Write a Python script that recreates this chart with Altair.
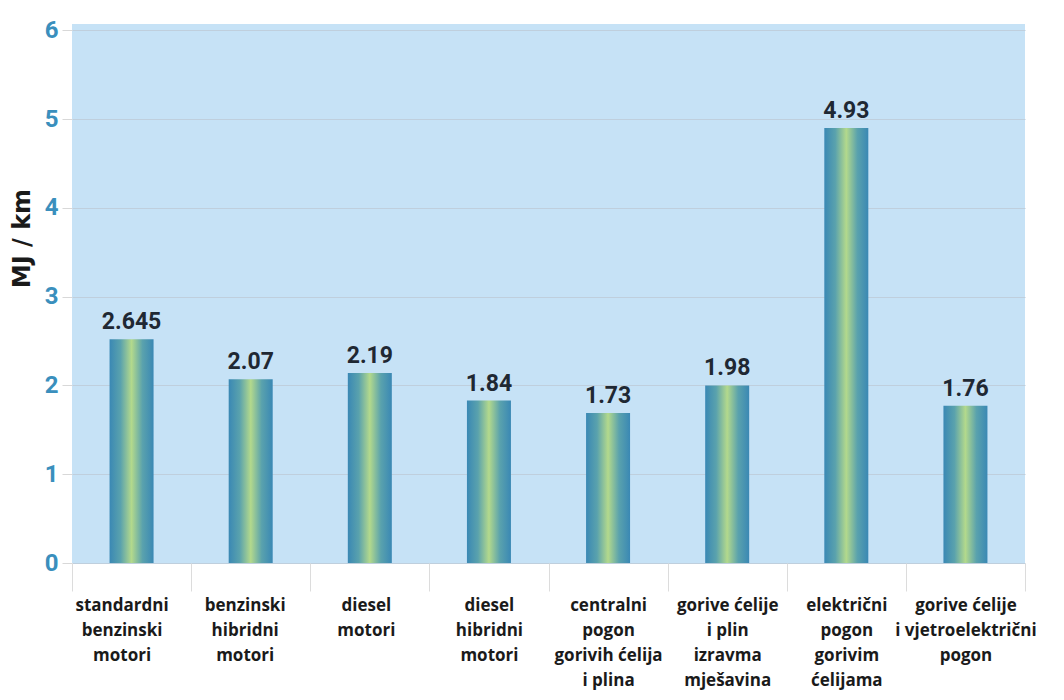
import altair as alt
import pandas as pd

categories = [
    "standardni|benzinski| motori",
    "benzinski|hibridni|motori",
    "diesel|motori",
    "diesel|hibridni|motori",
    "centralni|pogon|gorivih ćelija|i plina",
    "gorive ćelije|i plin|izravma|mješavina",
    "električni|pogon|gorivim|ćelijama",
    "gorive ćelije|i vjetroelektrični|pogon",
]
bar_heights = [2.52, 2.07, 2.14, 1.83, 1.69, 2.00, 4.90, 1.77]
value_labels = ["2.645", "2.07", "2.19", "1.84", "1.73", "1.98", "4.93", "1.76"]
y_ticks = [0, 1, 2, 3, 4, 5, 6]

df = pd.DataFrame({"cat": categories, "h": bar_heights, "lbl": value_labels})

num_font = "Roboto, sans-serif"

gradient = alt.Gradient(
    gradient="linear",
    x1=0, x2=1, y1=0, y2=0,
    stops=[
        alt.GradientStop(offset=0, color="#3a88b4"),
        alt.GradientStop(offset=0.25, color="#5aa2ad"),
        alt.GradientStop(offset=0.5, color="#b3d98c"),
        alt.GradientStop(offset=0.75, color="#5aa2ad"),
        alt.GradientStop(offset=1, color="#3a88b4"),
    ],
)

label_shift = {
    "condition": [
        {"test": "datum.value == '" + categories[0] + "'", "value": -10},
        {"test": "datum.value == '" + categories[1] + "'", "value": -6},
        {"test": "datum.value == '" + categories[2] + "'", "value": -4},
    ],
    "value": 0,
}

x_enc = alt.X(
    "cat:N",
    sort=categories,
    scale=alt.Scale(paddingInner=0, paddingOuter=0),
    axis=alt.Axis(
        title=None,
        labelAngle=0,
        labelExpr="split(datum.label, '|')",
        labelFont="Open Sans, sans-serif",
        labelFontWeight="bold",
        labelFontSize=17,
        labelColor="#1a1a1a",
        labelLineHeight=25,
        labelBaseline="top",
        labelPadding=6,
        labelOffset=label_shift,
        labelLimit=0,
        tickBand="extent",
        tickSize=28,
        tickColor="#dcdcdc",
        tickWidth=1,
        domain=False,
        grid=False,
    ),
)

y_enc = alt.Y(
    "h:Q",
    scale=alt.Scale(domain=[0, 6.07], nice=False),
    axis=alt.Axis(
        values=y_ticks,
        format="d",
        title="MJ / km",
        titleFont="DejaVu Sans, sans-serif",
        titleFontWeight="bold",
        titleFontSize=24,
        titleColor="#1a1a1a",
        titleX=-50,
        titleY=214,
        titleAlign="center",
        titleBaseline="middle",
        titleAngle=270,
        labelFont=num_font,
        labelFontWeight="bold",
        labelFontSize=24,
        labelColor="#3a8fbd",
        labelPadding=4,
        tickSize=10,
        tickColor="#d8d8d8",
        gridColor="#bfcfdd",
        gridWidth=1,
        domain=False,
    ),
)

bars = alt.Chart(df).mark_bar(size=44, color=gradient).encode(x=x_enc, y=y_enc)

texts = alt.Chart(df).mark_text(
    baseline="bottom",
    dy=-5,
    font=num_font,
    fontWeight="bold",
    fontSize=23,
    color="#1f2833",
).encode(x=alt.X("cat:N", sort=categories), y="h:Q", text="lbl:N")

chart = (
    alt.layer(bars, texts)
    .properties(
        width=953,
        height=539,
        autosize=alt.AutoSizeParams(type="none"),
        padding={"left": 64, "top": 16, "right": 31, "bottom": 129},
        background="white",
    )
    .configure_view(fill="#c6e2f6", strokeWidth=0)
)

chart.save("out.html", embed_options={"renderer": "svg", "actions": False})
